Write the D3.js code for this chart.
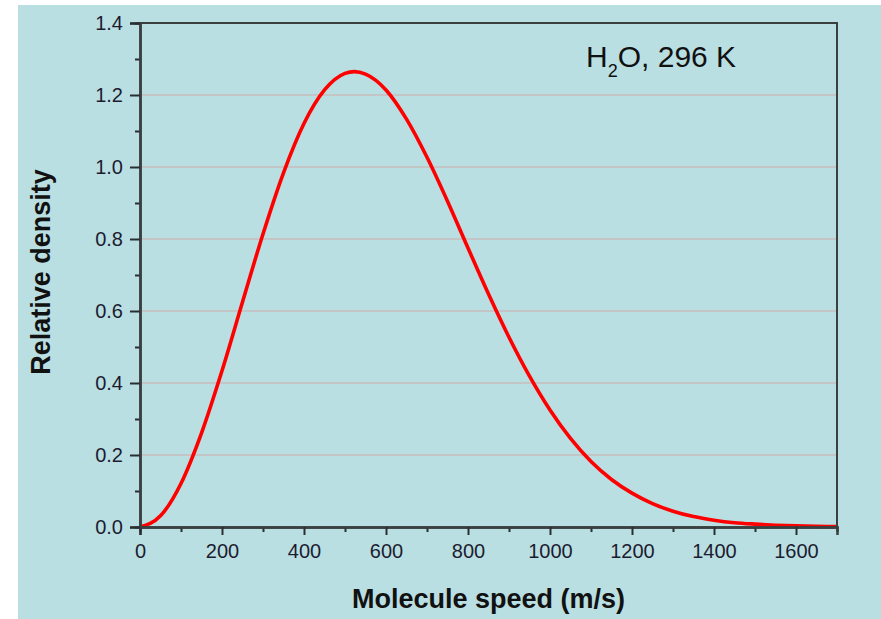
<!DOCTYPE html>
<html>
<head>
<meta charset="utf-8">
<script src="https://cdn.jsdelivr.net/npm/d3@7"></script>
<style>
  body { margin: 0; background: #fff; }
  text { font-family: "Liberation Sans", Arial, sans-serif; }
</style>
</head>
<body>
<script>

svgWidth = 881
svgHeight = 619
margin = {"top": 23, "bottom": 92, "left": 140, "right": 44}

// speed (m/s) and relative density
var speeds = [0, 50, 100, 150, 200, 250, 300, 350, 400, 450, 500, 523, 550, 600, 650,
              700, 750, 800, 850, 900, 950, 1000, 1050, 1100, 1150, 1200, 1250, 1300,
              1350, 1400, 1450, 1500, 1550, 1600, 1650, 1700]
var density = [0, 0.031, 0.121, 0.261, 0.434, 0.625, 0.814, 0.984, 1.121, 1.214, 1.260, 1.265,
               1.258, 1.214, 1.133, 1.027, 0.905, 0.775, 0.647, 0.527, 0.419, 0.325, 0.246,
               0.182, 0.132, 0.094, 0.065, 0.044, 0.029, 0.019, 0.012, 0.008, 0.005, 0.003,
               0.002, 0.001]

var xTicks = [0, 200, 400, 600, 800, 1000, 1200, 1400, 1600]
var xMinor = [100, 300, 500, 700, 900, 1100, 1300, 1500]
var yTicks = [0, 0.2, 0.4, 0.6, 0.8, 1.0, 1.2, 1.4]
var yMinor = [0.1, 0.3, 0.5, 0.7, 0.9, 1.1, 1.3]
var gridVals = [0.2, 0.4, 0.6, 0.8, 1.0, 1.2]

var data1 = speeds.map(function(s, i) { return {v: s, d: density[i]}; })

xScale = d3.scaleLinear()
            .domain([0, 1700])
            .range([margin.left, svgWidth - margin.right])

yScale = d3.scaleLinear()
            .domain([0, 1.4])
            .range([svgHeight - margin.bottom, margin.top])

var svg = d3.select("body").append("svg")
          .attr("width", svgWidth)
          .attr("height", svgHeight)

// light blue panel
svg.append("rect")
    .attr("x", 18).attr("y", 5)
    .attr("width", svgWidth - 18).attr("height", svgHeight - 5)
    .style("fill", "#badfe2")

// grid
svg.selectAll(".grid")
    .data(gridVals)
    .enter().append("line")
      .attr("class", "grid")
      .attr("x1", xScale(0)).attr("x2", xScale(1700))
      .attr("y1", function(d) { return yScale(d); })
      .attr("y2", function(d) { return yScale(d); })
      .style("stroke", "#c6bcbc")
      .style("stroke-width", 1.5)

// curve
var line = d3.line()
    .x(function(d) { return xScale(d.v); })
    .y(function(d) { return yScale(d.d); })
    .curve(d3.curveMonotoneX)

svg.append("path")
    .datum(data1)
    .attr("d", line)
    .style("fill", "none")
    .style("stroke", "#ff0000")
    .style("stroke-width", 3.6)

// frame top / right
svg.append("path")
    .attr("d", "M" + xScale(0) + "," + yScale(1.4) + "H" + xScale(1700) + "V" + yScale(0))
    .style("fill", "none")
    .style("stroke", "#3a3f40")
    .style("stroke-width", 2)

yAxis = d3.axisLeft().scale(yScale)
            .tickValues(yTicks)
            .tickFormat(d3.format(".1f"))
            .tickSize(10)
            .tickPadding(7)

yAxisMinor = d3.axisLeft().scale(yScale)
            .tickValues(yMinor)
            .tickFormat("")
            .tickSize(5)

xAxis = d3.axisBottom().scale(xScale)
            .tickValues(xTicks)
            .tickFormat(d3.format("d"))
            .tickSize(8)
            .tickPadding(9)

xAxisMinor = d3.axisBottom().scale(xScale)
            .tickValues(xMinor)
            .tickFormat("")
            .tickSize(5)

function styleAxis(g) {
  g.select(".domain").style("stroke", "#3a3f40").style("stroke-width", 2.5)
  g.selectAll(".tick line").style("stroke", "#2a2e30").style("stroke-width", 2)
  g.selectAll("text")
      .style("font-size", "20px")
      .style("fill", "#1c1c30")
}

svg.append('g')
    .attr('transform', 'translate(0, ' + yScale(0) + ')')
    .call(xAxisMinor)
    .call(styleAxis)

svg.append('g')
    .attr('class', 'xAxis')
    .attr('transform', 'translate(0, ' + yScale(0) + ')')
    .call(xAxis)
    .call(styleAxis)

svg.append('g')
    .attr('transform', 'translate(' + xScale(0) + ', 0)')
    .call(yAxisMinor)
    .call(styleAxis)

svg.append('g')
    .attr('transform', 'translate(' + xScale(0) + ', 0)')
    .call(yAxis)
    .call(styleAxis)

// axis titles
svg.append("text")
    .attr("x", (xScale(0) + xScale(1700)) / 2)
    .attr("y", 608)
    .attr("text-anchor", "middle")
    .style("font-size", "27px")
    .style("font-weight", "bold")
    .style("fill", "#111")
    .text("Molecule speed (m/s)")

svg.append("text")
    .attr("transform", "translate(50, 272) rotate(-90)")
    .attr("text-anchor", "middle")
    .style("font-size", "27px")
    .style("font-weight", "bold")
    .style("fill", "#111")
    .text("Relative density")

// label
var lab = svg.append("text")
    .attr("x", 586)
    .attr("y", 67)
    .style("font-size", "30px")
    .style("fill", "#111")
lab.append("tspan").text("H")
lab.append("tspan").attr("dy", 10).style("font-size", "18px").text("2")
lab.append("tspan").attr("dy", -10).text("O, 296 K")

</script>
</body>
</html>
